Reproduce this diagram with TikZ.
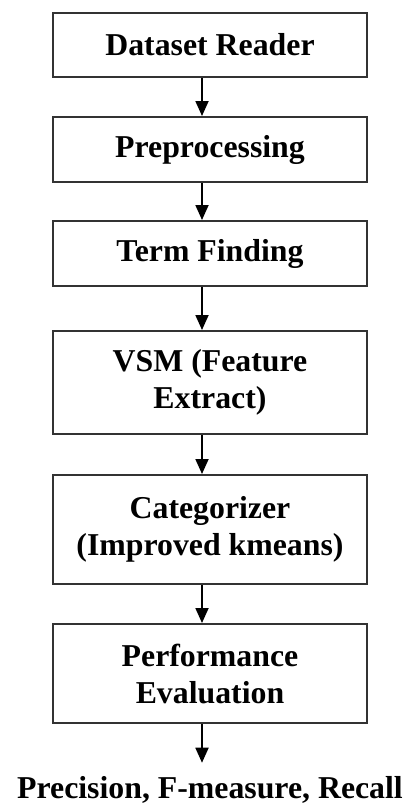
\documentclass[tikz,border=0pt]{standalone}
\usepackage{fontspec}
\setmainfont{Liberation Serif}
\usetikzlibrary{arrows.meta}
\begin{document}
\begin{tikzpicture}[x=1pt,y=-1pt,
  stage/.style={draw=black!80, line width=2pt, minimum width=314pt, inner sep=0pt,
    align=center, font=\bfseries\fontsize{31.8}{37}\selectfont},
  outcome/.style={inner sep=0pt, font=\bfseries\fontsize{31.8}{37}\selectfont},
  flow/.style={-{Triangle[length=15pt,width=13pt]}, line width=1.8pt, draw=black}]
\useasboundingbox (0,0) rectangle (410,804);

% processing stages
\node[stage, minimum height=64pt]  (reader) at (210,45)    {Dataset Reader};
\node[stage, minimum height=65pt]  (prep)   at (210,149.5) {Preprocessing};
\node[stage, minimum height=65pt]  (terms)  at (210,253.5) {Term Finding};
\node[stage, minimum height=103pt] (vsm)    at (210,382.5) {VSM (Feature\\Extract)};
\node[stage, minimum height=109pt] (cat)    at (210,529.5) {Categorizer\\(Improved kmeans)};
\node[stage, minimum height=99pt]  (perf)   at (210,673.5) {Performance\\Evaluation};
\node[outcome, anchor=base] (result) at (210,798) {Precision, F-measure, Recall};

% connectors, slightly left of the box centres
\draw[flow] ([xshift=-8pt]reader.south) -- ([xshift=-8pt]prep.north);
\draw[flow] ([xshift=-8pt]prep.south)   -- ([xshift=-8pt]terms.north);
\draw[flow] ([xshift=-8pt]terms.south)  -- ([xshift=-8pt]vsm.north);
\draw[flow] ([xshift=-8pt]vsm.south)    -- ([xshift=-8pt]cat.north);
\draw[flow] ([xshift=-8pt]cat.south)    -- ([xshift=-8pt]perf.north);
\draw[flow] ([xshift=-8pt]perf.south)   -- ([xshift=-8pt,yshift=13pt]result.north);
\end{tikzpicture}
\end{document}
